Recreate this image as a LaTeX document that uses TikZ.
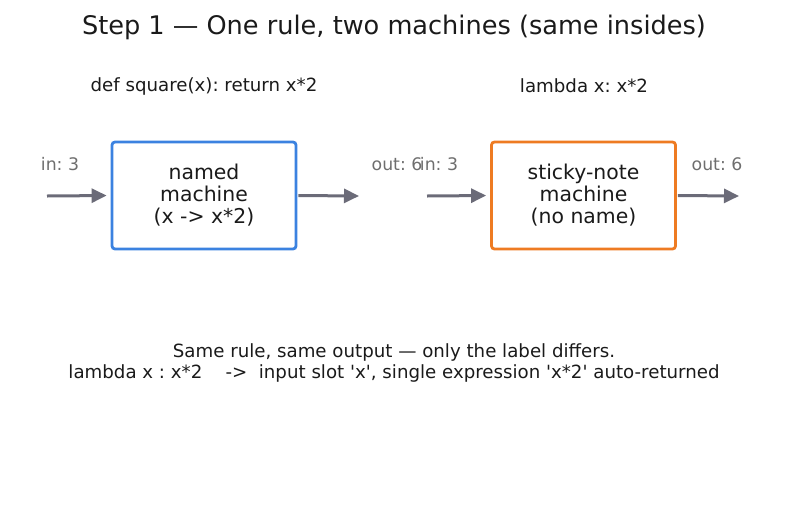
\documentclass[tikz,border=0pt]{standalone}
\usepackage{fontspec}
\setmainfont{DejaVu Sans}
\usetikzlibrary{arrows.meta}
\definecolor{bluec}{HTML}{3B82E0}
\definecolor{orangec}{HTML}{EE7B22}
\definecolor{arrc}{HTML}{6B6B78}
\definecolor{lblc}{HTML}{6E6E6E}
\definecolor{txtc}{HTML}{1A1A1A}
\tikzset{
  machine/.style={draw, line width=2.8pt, rounded corners=3pt, minimum width=184pt, minimum height=107pt, align=center, font=\fontsize{20.4}{22}\selectfont, text=txtc},
  flow/.style={draw=arrc, line width=3pt, -{Triangle[length=15pt,width=14pt]}},
  iolbl/.style={text=lblc, font=\fontsize{17.3}{20}\selectfont},
  caption/.style={text=txtc, font=\fontsize{18.2}{21}\selectfont},
}
\begin{document}
\frenchspacing
\begin{tikzpicture}[x=1pt,y=-1pt]
\useasboundingbox (0,0) rectangle (787,512);
\node[text=txtc, font=\fontsize{25.6}{30}\selectfont] (title) at (394,27.5) {Step 1 — One rule, two machines (same insides)};
\node[caption] (def) at (204,86) {def square(x): return x*2};
\node[caption] (lam) at (584,86) {lambda x: x*2};
\node[machine, draw=bluec] (m1) at (204,195.5) {\raisebox{-2pt}{\parbox{170pt}{\centering named\\machine\\(x -> x*2)}}};
\node[machine, draw=orangec] (m2) at (583.5,195.5) {\raisebox{-2pt}{\parbox{170pt}{\centering sticky-note\\machine\\(no name)}}};
\coordinate (i1) at (47,196);
\coordinate (o1) at (359,196);
\coordinate (i2) at (427,196);
\coordinate (o2) at (739,196);
\draw[flow, shorten >=4pt] (i1) -- (m1.west);
\draw[flow, shorten <=1pt] (m1.east) -- (o1);
\draw[flow, shorten >=4pt] (i2) -- (m2.west);
\draw[flow, shorten <=1pt] (m2.east) -- (o2);
\node[iolbl] (in1) at (60,164.5) {in: 3};
\node[iolbl] (out1) at (397,164.5) {out: 6};
\node[iolbl] (in2) at (439,164.5) {in: 3};
\node[iolbl] (out2) at (717,164.5) {out: 6};
\node[caption, align=center] (note) at (394,362.5) {Same rule, same output — only the label differs.\\lambda x : x*2 \ \ \ ->\ \ input slot \textquotesingle x\textquotesingle, single expression \textquotesingle x*2\textquotesingle\ auto-returned};
\end{tikzpicture}
\end{document}
